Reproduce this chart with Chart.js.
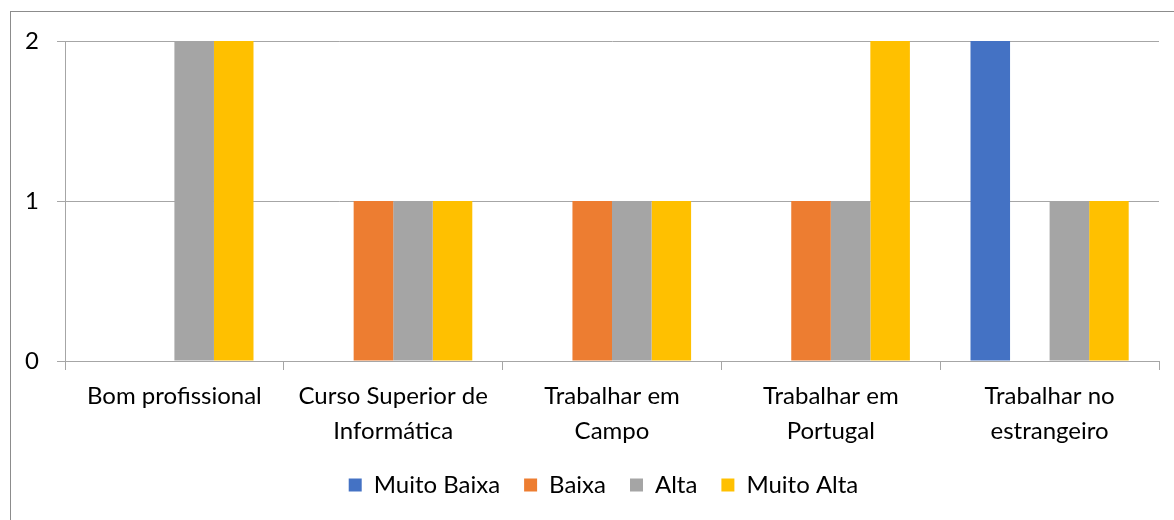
<!DOCTYPE html>
<html><head><meta charset="utf-8">
<script src="https://cdn.jsdelivr.net/npm/chart.js@4.4.0/dist/chart.umd.min.js"></script>
<style>
html,body{margin:0;padding:0;background:#fff;}
#wrap{position:relative;width:1174px;height:520px;}
#frame{position:absolute;left:10px;top:11px;width:1200px;height:600px;border:1px solid #8c8c8c;box-sizing:border-box;}
canvas{position:absolute;left:0;top:0;}
</style></head>
<body><div id="wrap"><div id="frame"></div><canvas id="c" width="1174" height="520"></canvas></div>
<script>
const categories = [["Bom profissional"],["Curso Superior de","Informática"],["Trabalhar em","Campo"],["Trabalhar em","Portugal"],["Trabalhar no","estrangeiro"]];
const seriesNames = ["Muito Baixa","Baixa","Alta","Muito Alta"];
const muitoBaixa = [0,0,0,0,2];
const baixa = [0,1,1,1,0];
const alta = [2,1,1,1,1];
const muitoAlta = [2,1,1,2,1];
const yTicks = [0,1,2];
const colors = ["#4472C4","#ED7D31","#A5A5A5","#FFC000"];
const values = [muitoBaixa,baixa,alta,muitoAlta];
const FONT = "Lato";
const FS = 24;
const gridColor = "#a6a6a6";
const legendShift = {id:'legendShift',afterLayout(chart){const l=chart.legend; if(l){l.left+=24;l.right+=24;}}};
new Chart(document.getElementById('c'),{
  type:'bar',
  data:{labels:categories,datasets:values.map((v,i)=>({label:seriesNames[i],data:v,backgroundColor:colors[i],borderWidth:0,barPercentage:1,categoryPercentage:0.723}))},
  options:{
    responsive:false,animation:false,devicePixelRatio:1,
    layout:{padding:{top:41,right:15,left:0,bottom:13}},
    plugins:{tooltip:{enabled:false},
      legend:{position:'bottom',labels:{font:{family:FONT,size:FS},color:'#000',boxWidth:13,boxHeight:13,padding:24}}},
    scales:{
      x:{grid:{drawOnChartArea:false,color:gridColor,tickLength:9,offset:true},border:{color:gridColor},
         afterFit:(s)=>{s.height=88;},
         ticks:{font:{family:FONT,size:FS,lineHeight:1.45},color:'#000',maxRotation:0,autoSkip:false,padding:9}},
      y:{min:0,max:2,afterBuildTicks:(s)=>{s.ticks=yTicks.map(v=>({value:v}));},
         afterFit:(s)=>{s.width=65;},
         grid:{color:gridColor,tickLength:8},border:{color:gridColor},
         ticks:{font:{family:FONT,size:FS},color:'#000',padding:18}}
    }
  },
  plugins:[legendShift]
});
</script></body></html>
